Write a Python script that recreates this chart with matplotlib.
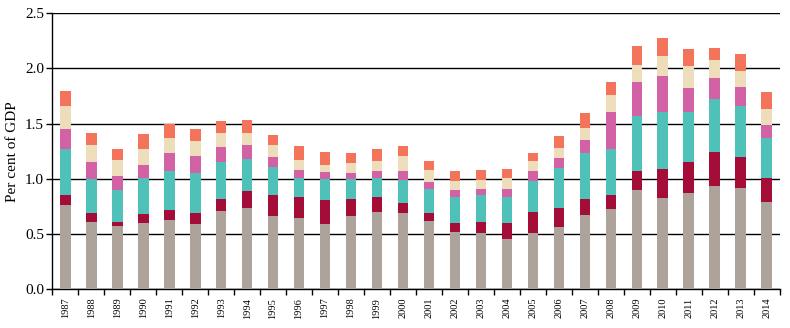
import numpy as np
import matplotlib
matplotlib.use("Agg")
import matplotlib.pyplot as plt

plt.rcParams['font.family'] = ['Liberation Serif', 'DejaVu Serif']

# years and stacked components (per cent of GDP), bottom to top
years = [str(y) for y in range(1987, 2015)]

grey = [0.76, 0.61, 0.57, 0.60, 0.63, 0.59, 0.71, 0.74, 0.66, 0.65,
        0.59, 0.66, 0.70, 0.69, 0.62, 0.52, 0.51, 0.46, 0.51, 0.56,
        0.67, 0.73, 0.90, 0.83, 0.87, 0.94, 0.92, 0.79]
crimson = [0.09, 0.08, 0.04, 0.08, 0.09, 0.10, 0.11, 0.15, 0.19, 0.19,
           0.22, 0.16, 0.14, 0.09, 0.07, 0.08, 0.10, 0.14, 0.19, 0.18,
           0.15, 0.12, 0.17, 0.26, 0.28, 0.30, 0.28, 0.22]
teal = [0.42, 0.31, 0.29, 0.33, 0.35, 0.36, 0.33, 0.29, 0.26, 0.17,
        0.19, 0.18, 0.17, 0.21, 0.22, 0.24, 0.24, 0.24, 0.28, 0.36,
        0.41, 0.42, 0.50, 0.52, 0.46, 0.48, 0.46, 0.36]
pink = [0.18, 0.15, 0.13, 0.12, 0.16, 0.16, 0.14, 0.13, 0.09, 0.07,
        0.06, 0.05, 0.06, 0.08, 0.06, 0.06, 0.06, 0.07, 0.09, 0.09,
        0.12, 0.34, 0.31, 0.32, 0.21, 0.19, 0.17, 0.12]
beige = [0.21, 0.16, 0.14, 0.14, 0.14, 0.13, 0.13, 0.11, 0.11, 0.09,
         0.07, 0.09, 0.09, 0.14, 0.11, 0.08, 0.08, 0.10, 0.09, 0.09,
         0.11, 0.15, 0.15, 0.18, 0.20, 0.17, 0.15, 0.14]
orange = [0.14, 0.11, 0.10, 0.14, 0.13, 0.11, 0.10, 0.11, 0.09, 0.13,
          0.11, 0.09, 0.11, 0.09, 0.08, 0.09, 0.09, 0.08, 0.07, 0.11,
          0.14, 0.12, 0.17, 0.17, 0.16, 0.11, 0.15, 0.16]

series = [grey, crimson, teal, pink, beige, orange]
colors = ['#ADA39A', '#A30D38', '#50C1B9', '#D262A5', '#EDDDBA', '#F4735B']

fig = plt.figure(figsize=(7.9, 3.28), dpi=100)
ax = fig.add_axes([0.0662, 0.118, 0.9208, 0.8415])

x = np.arange(len(years))
bottom = np.zeros(len(years))
for vals, c in zip(series, colors):
    ax.bar(x, vals, width=0.41, bottom=bottom, color=c, zorder=3)
    bottom += np.array(vals)

ax.set_xlim(-0.5, len(years) - 0.5)
ax.set_ylim(0, 2.5)
ax.set_yticks(np.arange(0, 2.51, 0.5))
ax.set_yticklabels([f"{v:.1f}" for v in np.arange(0, 2.51, 0.5)], fontsize=11)
ax.yaxis.grid(True, color='black', linewidth=1.0, zorder=1)

ax.set_xticks(x)
ax.set_xticklabels(years, rotation=90, fontsize=7.5)
ax.set_xticks(np.arange(-0.5, len(years)), minor=True)
ax.tick_params(axis='x', which='major', length=0, pad=6)
ax.tick_params(axis='x', which='minor', length=4, width=1, direction='out')
ax.tick_params(axis='y', length=4, width=1, direction='out', pad=2)

ax.set_ylabel("Per cent of GDP", fontsize=11, labelpad=4)

for s in ['top', 'right']:
    ax.spines[s].set_visible(False)
for s in ['left', 'bottom']:
    ax.spines[s].set_linewidth(1.0)

fig.savefig("out.png", dpi=100)
